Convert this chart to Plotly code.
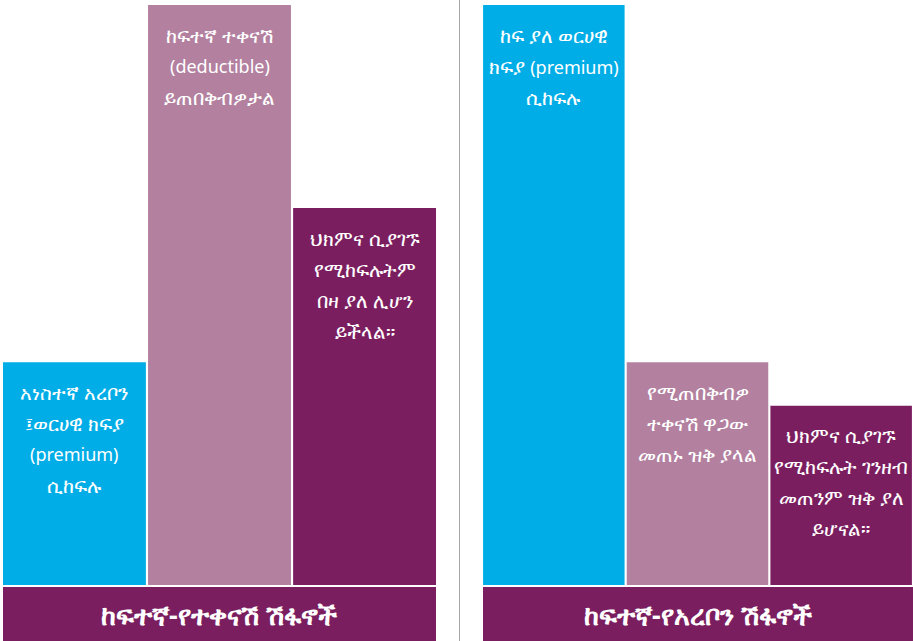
import re
import plotly.graph_objects as go

# ---- data ----
left_categories = ["a", "b", "c"]
left_values = [38.4, 100, 65]
left_labels = [
    ["አነስተኛ አረቦን", "፤ወርሀዊ ክፍያ", "(premium)", "ሲከፍሉ"],
    ["ከፍተኛ ተቀናሽ", "(deductible)", "ይጠበቅብዎታል"],
    ["ህክምና ሲያገኙ", "የሚከፍሉትም", "በዛ ያለ ሊሆን", "ይችላል።"],
]
left_title = "ከፍተኛ-የተቀናሽ ሽፋኖች"

right_categories = ["a", "b", "c"]
right_values = [100, 38.4, 30.9]
right_labels = [
    ["ከፍ ያለ ወርሀዊ", "ክፍያ (premium)", "ሲከፍሉ"],
    ["የሚጠበቅብዎ", "ተቀናሽ ዋጋው", "መጠኑ ዝቅ ያላል"],
    ["ህክምና ሲያገኙ", "የሚከፍሉት ገንዘብ", "መጠንም ዝቅ ያለ", "ይሆናል።"],
]
right_title = "ከፍተኛ-የአረቦን ሽፋኖች"

colors = ["#00ADE7", "#B3819F", "#7B1E5F"]
band_color = "#7B1E5F"

W, H = 913, 641
FONT = "Noto Sans, DejaVu Sans"
fig = go.Figure()

fig.add_trace(go.Bar(
    x=left_categories, y=left_values,
    marker=dict(color=colors, line=dict(width=0)),
    hoverinfo="skip", xaxis="x", yaxis="y",
))
fig.add_trace(go.Bar(
    x=right_categories, y=right_values,
    marker=dict(color=colors, line=dict(width=0)),
    hoverinfo="skip", xaxis="x2", yaxis="y2",
))


def style_latin(s):
    # slightly smaller latin words so they match the narrower original face
    return re.sub(r"(\([A-Za-z]+\))", r"<span style='font-size:18px'>\1</span>", s)


annotations = []
first_offset, line_gap = 30, 31
for cats, vals, labels, xr, yr in [
    (left_categories, left_values, left_labels, "x", "y"),
    (right_categories, right_values, right_labels, "x2", "y2"),
]:
    for c, v, lines in zip(cats, vals, labels):
        for i, line in enumerate(lines):
            annotations.append(dict(
                text=style_latin(line), x=c, y=v, xref=xr, yref=yr, showarrow=False,
                xanchor="center", yanchor="middle",
                yshift=-(first_offset + line_gap * i),
                font=dict(color="white", size=20, family=FONT),
            ))

ybot = (H - 585) / H
ytop = (H - 5) / H
band_top = (H - 587) / H

annotations += [
    dict(text="<b>" + left_title + "</b>", xref="paper", yref="paper",
         x=(3 + 436) / 2 / W, y=band_top / 2, showarrow=False,
         xanchor="center", yanchor="middle",
         font=dict(color="white", size=27, family=FONT)),
    dict(text="<b>" + right_title + "</b>", xref="paper", yref="paper",
         x=(483 + 913) / 2 / W, y=band_top / 2, showarrow=False,
         xanchor="center", yanchor="middle",
         font=dict(color="white", size=27, family=FONT)),
]

fig.update_layout(
    width=W, height=H,
    margin=dict(l=0, r=0, t=0, b=0),
    paper_bgcolor="white", plot_bgcolor="white",
    showlegend=False, bargap=0.015,
    xaxis=dict(domain=[1.9 / W, 437.1 / W], visible=False, fixedrange=True),
    xaxis2=dict(domain=[482.0 / W, 1.0], visible=False, fixedrange=True),
    yaxis=dict(domain=[ybot, ytop], range=[0, 100], visible=False),
    yaxis2=dict(domain=[ybot, ytop], range=[0, 100], visible=False, anchor="x2"),
    shapes=[
        dict(type="rect", xref="paper", yref="paper", x0=3 / W, x1=436 / W,
             y0=0, y1=band_top, fillcolor=band_color, line=dict(width=0)),
        dict(type="rect", xref="paper", yref="paper", x0=483 / W, x1=1,
             y0=0, y1=band_top, fillcolor=band_color, line=dict(width=0)),
        dict(type="line", xref="paper", yref="paper", x0=459.5 / W, x1=459.5 / W,
             y0=0, y1=1, line=dict(color="#A6A6A6", width=1)),
    ],
    annotations=annotations,
)

fig.write_html(
    "out.html",
    config={"displayModeBar": False},
    post_script="document.body.style.margin='0';document.body.style.overflow='hidden';",
)
